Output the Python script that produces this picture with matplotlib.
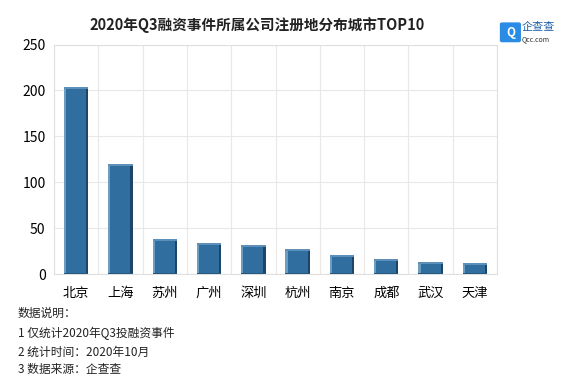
import numpy as np
import matplotlib.pyplot as plt
from matplotlib.patches import FancyBboxPatch

plt.rcParams['font.family'] = ['Noto Sans CJK SC', 'DejaVu Sans']

# データ
cities = ['北京', '上海', '苏州', '广州', '深圳', '杭州', '南京', '成都', '武汉', '天津']
counts = [204, 120, 38, 34, 32, 27, 21, 16, 13, 12]
yticks = [0, 50, 100, 150, 200, 250]
notes = ['数据说明：', '1 仅统计2020年Q3投融资事件', '2 统计时间：2020年10月', '3 数据来源：企查查']

fig = plt.figure(figsize=(5.8, 3.78), dpi=100)
ax = fig.add_axes([0.093, 0.275, 0.764, 0.607])

x = np.arange(len(cities))
w = 0.55
# 本体
ax.bar(x, counts, width=w, color='#2F6E9E', zorder=3)
# 立体風の縁取り（左は明るく、右は暗く）
ax.bar(x - w / 2 + 0.025, counts, width=0.05, color='#6E9DC2', zorder=4)
ax.bar(x + w / 2 - 0.025, counts, width=0.05, color='#1C4568', zorder=4)
top = np.array(counts, dtype=float)
ax.bar(x, np.full(len(x), 2.0), bottom=top - 2.0, width=w, color='#5E8FB8', zorder=5)
ax.bar(x, np.full(len(x), 1.5), bottom=0, width=w, color='#24587F', zorder=5)

ax.set_xlim(-0.5, len(cities) - 0.5)
ax.set_ylim(0, 250)
ax.set_yticks(yticks)
ax.set_xticks(x)
ax.set_xticklabels(cities, fontsize=9.5)
ax.tick_params(axis='y', labelsize=10, length=0, pad=6)
ax.tick_params(axis='x', length=0, pad=9)
ax.set_xticks(np.arange(-0.5, len(cities), 1), minor=True)
ax.tick_params(axis='x', which='minor', length=0)
ax.grid(axis='y', color='#E8E8E8', linewidth=0.8, zorder=0)
ax.grid(axis='x', which='minor', color='#E8E8E8', linewidth=0.8, zorder=0)
for s in ax.spines.values():
    s.set_color('#E0E0E0')
    s.set_linewidth(0.8)

fig.text(0.443, 0.935, '2020年Q3融资事件所属公司注册地分布城市TOP10',
         ha='center', va='center', fontsize=10.5, fontweight='bold', color='#222222')

# ロゴ
logo = FancyBboxPatch((0.866, 0.893), 0.028, 0.043, boxstyle='round,pad=0.003',
                      transform=fig.transFigure, color='#2B8CE6')
fig.patches.append(logo)
fig.text(0.880, 0.914, 'Q', ha='center', va='center', fontsize=8.5, fontweight='bold', color='white')
fig.text(0.899, 0.929, '企查查', ha='left', va='center', fontsize=8, color='#1F5FA8')
fig.text(0.899, 0.897, 'Qcc.com', ha='left', va='center', fontsize=5, color='#333333')

ys = [0.172, 0.119, 0.069, 0.022]
for t, yy in zip(notes, ys):
    fig.text(0.031, yy, t, ha='left', va='center', fontsize=8.5, color='#222222')

fig.savefig('out.png', dpi=100)
